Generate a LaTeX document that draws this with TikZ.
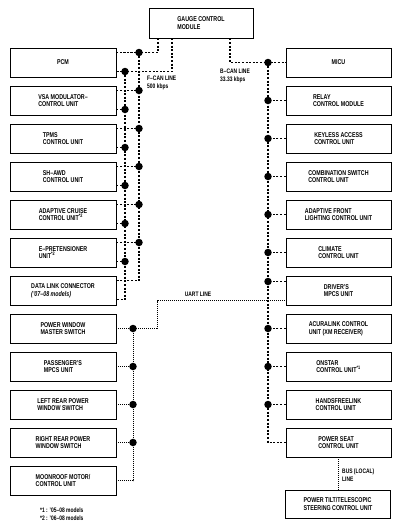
\documentclass[tikz,border=0pt]{standalone}
\usepackage{fontspec}
\setmainfont{Liberation Sans}[FakeStretch=0.76]
\usetikzlibrary{calc}

\tikzset{
  unitbox/.style={draw, rectangle, line width=0.9pt, minimum width=106pt, minimum height=29pt,
    inner sep=1pt, align=left, font=\bfseries\fontsize{7}{7.6}\selectfont},
  fcan/.style={line width=1.3pt, dash pattern=on 2pt off 1.6pt},
  uart/.style={line width=0.9pt, dash pattern=on 0.9pt off 1.1pt},
  jdot/.style={circle, fill, inner sep=0pt, minimum size=7.5pt},
  lbl/.style={font=\bfseries\fontsize{6.5}{7.4}\selectfont, align=left, anchor=north west, inner sep=0pt},
}

\begin{document}
\begin{tikzpicture}[x=1pt, y=-1pt]
    \useasboundingbox (0,0) rectangle (401,531);

    % gauge
    \node [unitbox, minimum width=104pt, minimum height=30pt] (gauge) at (201,23) {GAUGE CONTROL\\MODULE};

    % left column
    \node [unitbox] (pcm) at (63,62.5) {PCM};
    \node [unitbox] (vsa) at (63,100.5) {VSA MODULATOR–\\CONTROL UNIT};
    \node [unitbox] (tpms) at (63,138.5) {TPMS\\CONTROL UNIT};
    \node [unitbox] (awd) at (63,176.5) {SH–AWD\\CONTROL UNIT};
    \node [unitbox] (acc) at (63,214.5) {ADAPTIVE CRUISE\\CONTROL UNIT\textsuperscript{*2}};
    \node [unitbox] (epre) at (63,252.5) {E–PRETENSIONER\\UNIT\textsuperscript{*2}};
    \node [unitbox] (dlc) at (63,290.5) {DATA LINK CONNECTOR\\{\itshape (’07–08 models)}};
    \node [unitbox, align=center] (pwms) at (63,328.5) {POWER WINDOW\\MASTER SWITCH};
    \node [unitbox] (pmpcs) at (63,366.5) {PASSENGER’S\\MPCS UNIT};
    \node [unitbox] (lrpw) at (63,404.5) {LEFT REAR POWER\\WINDOW SWITCH};
    \node [unitbox] (rrpw) at (63,442.5) {RIGHT REAR POWER\\WINDOW SWITCH};
    \node [unitbox] (moon) at (63,480.5) {MOONROOF MOTOR/\\CONTROL UNIT};

    % right column
    \node [unitbox, minimum width=105pt] (micu) at (338.5,62.5) {MICU};
    \node [unitbox, minimum width=105pt] (relay) at (338.5,100.5) {RELAY\\CONTROL MODULE};
    \node [unitbox, minimum width=105pt] (keyless) at (338.5,138.5) {KEYLESS ACCESS\\CONTROL UNIT};
    \node [unitbox, minimum width=105pt] (combi) at (338.5,176.5) {COMBINATION SWITCH\\CONTROL UNIT};
    \node [unitbox, minimum width=105pt] (afs) at (338.5,214.5) {ADAPTIVE FRONT\\LIGHTING CONTROL UNIT};
    \node [unitbox, minimum width=105pt] (climate) at (338.5,252.5) {CLIMATE\\CONTROL UNIT};
    \node [unitbox, minimum width=105pt] (dmpcs) at (338.5,290.5) {DRIVER’S\\MPCS UNIT};
    \node [unitbox, minimum width=105pt] (acura) at (338.5,328.5) {ACURALINK CONTROL\\UNIT (XM RECEIVER)};
    \node [unitbox, minimum width=105pt] (onstar) at (338.5,366.5) {ONSTAR\\CONTROL UNIT\textsuperscript{*1}};
    \node [unitbox, minimum width=105pt] (hfl) at (338.5,404.5) {HANDSFREELINK\\CONTROL UNIT};
    \node [unitbox, minimum width=105pt] (pseat) at (338.5,442.5) {POWER SEAT\\CONTROL UNIT};
    \node [unitbox, minimum width=105pt, minimum height=28pt] (tilt) at (338,504) {POWER TILT/TELESCOPIC\\STEERING CONTROL UNIT};

    % F-CAN line
    \coordinate (busA) at (139,0);
    \coordinate (busB) at (125,0);
    \coordinate (fcA) at (158,0);
    \coordinate (fcB) at (172,0);
    \foreach \u in {pcm,vsa,tpms,awd,acc,epre,dlc} {
      \coordinate (up\u) at ([yshift=10pt]\u.east);
      \coordinate (dn\u) at ([yshift=-9pt]\u.east);
    }
    \draw [fcan] (gauge.south -| fcA) |- (uppcm);
    \draw [fcan] (gauge.south -| fcB) |- (dnpcm);
    \draw [fcan] (uppcm -| busA) -- (updlc -| busA) -- (updlc);
    \draw [fcan] (dnpcm -| busB) -- (dndlc -| busB) -- (dndlc);
    \foreach \u in {pcm,vsa,tpms,awd,acc,epre} {
      \draw [fcan] (up\u) -- (up\u -| busA) node [jdot] {};
      \draw [fcan] (dn\u) -- (dn\u -| busB) node [jdot] {};
    }

    % B-CAN line
    \coordinate (busC) at (268,0);
    \coordinate (bcA) at (230,0);
    \coordinate (updmpcs) at ([yshift=9pt]dmpcs.west);
    \coordinate (dndmpcs) at ([yshift=-10pt]dmpcs.west);
    \draw [fcan] (gauge.south -| bcA) |- (micu.west);
    \draw [fcan] (micu.west -| busC) -- (pseat.west -| busC) -- (pseat.west);
    \node [jdot] at (micu.west -| busC) {};
    \foreach \u in {relay,keyless,combi,afs,climate,acura,onstar,hfl}
      \draw [fcan] (\u.west) -- (\u.west -| busC) node [jdot] {};
    \draw [fcan] (updmpcs) -- (updmpcs -| busC) node [jdot] {};

    % UART line
    \coordinate (busD) at (133,0);
    \coordinate (uaK) at (157,0);
    \draw [uart] (pwms.east) -| (uaK |- dndmpcs) -- (dndmpcs);
    \draw [uart] (pwms.east -| busD) -- (moon.east -| busD) -- (moon.east);
    \node [jdot] at (pwms.east -| busD) {};
    \foreach \u in {pmpcs,lrpw,rrpw}
      \draw [uart] (\u.east) -- (\u.east -| busD) node [jdot] {};

    % local bus
    \draw [uart] (tilt.north) -- (tilt.north |- pseat.south);

    % labels
    \node [lbl] (fcanlbl) at (147,76) {F–CAN LINE\\500 kbps};
    \node [lbl] (bcanlbl) at (220,69) {B–CAN LINE\\33.33 kbps};
    \node [lbl, anchor=base] (uartlbl) at (198,296) {UART LINE};
    \node [lbl] (buslbl) at (342,469) {BUS (LOCAL)\\LINE};
    \node [lbl] (notes) at (40,508) {*1 : ’05–08 models\\*2 : ’06–08 models};
\end{tikzpicture}
\end{document}
